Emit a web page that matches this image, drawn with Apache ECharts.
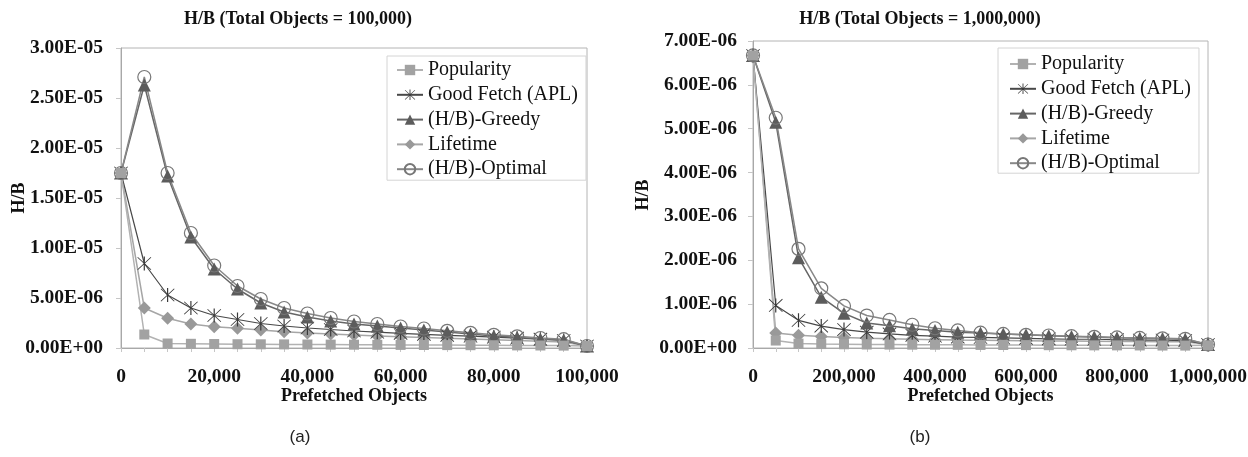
<!DOCTYPE html>
<html>
<head>
<meta charset="utf-8">
<script src="https://cdn.jsdelivr.net/npm/echarts@6/dist/echarts.min.js"></script>
<style>
  html, body { margin: 0; padding: 0; background: #ffffff; }
  #chart { width: 1248px; height: 457px; }
</style>
</head>
<body>
<div id="chart"></div>
<script>
// ---- Panel (a): 100,000 objects in total ----
const prefetchA = [0, 5000, 10000, 15000, 20000, 25000, 30000, 35000, 40000, 45000, 50000,
                   55000, 60000, 65000, 70000, 75000, 80000, 85000, 90000, 95000, 100000];
const popularityA = [1.75e-5, 1.35e-6, 4.5e-7, 4.2e-7, 4.0e-7, 3.8e-7, 3.7e-7, 3.6e-7, 3.5e-7, 3.4e-7, 3.3e-7,
                     3.2e-7, 3.1e-7, 3.0e-7, 2.9e-7, 2.8e-7, 2.7e-7, 2.6e-7, 2.5e-7, 2.4e-7, 2.0e-7];
const goodFetchA = [1.75e-5, 8.45e-6, 5.3e-6, 4.0e-6, 3.25e-6, 2.85e-6, 2.45e-6, 2.2e-6, 2.0e-6, 1.85e-6, 1.7e-6,
                    1.58e-6, 1.47e-6, 1.37e-6, 1.27e-6, 1.18e-6, 1.08e-6, 9.8e-7, 8.8e-7, 7.5e-7, 2.0e-7];
const greedyA = [1.75e-5, 2.63e-5, 1.72e-5, 1.11e-5, 7.9e-6, 5.9e-6, 4.5e-6, 3.6e-6, 3.1e-6, 2.7e-6, 2.4e-6,
                 2.2e-6, 2.0e-6, 1.8e-6, 1.6e-6, 1.4e-6, 1.2e-6, 1.07e-6, 9.0e-7, 8.0e-7, 2.0e-7];
const lifetimeA = [1.75e-5, 4.0e-6, 2.97e-6, 2.4e-6, 2.13e-6, 1.97e-6, 1.8e-6, 1.63e-6, 1.5e-6, 1.4e-6, 1.3e-6,
                   1.2e-6, 1.12e-6, 1.05e-6, 9.7e-7, 9.0e-7, 8.2e-7, 7.5e-7, 6.7e-7, 6.0e-7, 2.0e-7];
const optimalA = [1.75e-5, 2.71e-5, 1.75e-5, 1.15e-5, 8.25e-6, 6.2e-6, 4.9e-6, 4.0e-6, 3.45e-6, 3.0e-6, 2.65e-6,
                  2.4e-6, 2.15e-6, 1.95e-6, 1.72e-6, 1.52e-6, 1.32e-6, 1.17e-6, 1.0e-6, 8.8e-7, 2.0e-7];

// ---- Panel (b): 1,000,000 objects in total ----
const prefetchB = [0, 50000, 100000, 150000, 200000, 250000, 300000, 350000, 400000, 450000, 500000,
                   550000, 600000, 650000, 700000, 750000, 800000, 850000, 900000, 950000, 1000000];
const popularityB = [6.67e-6, 1.7e-7, 1.0e-7, 9.0e-8, 8.5e-8, 8.0e-8, 7.8e-8, 7.6e-8, 7.4e-8, 7.2e-8, 7.0e-8,
                     6.8e-8, 6.6e-8, 6.4e-8, 6.2e-8, 6.0e-8, 6.0e-8, 5.8e-8, 5.6e-8, 5.5e-8, 6.0e-8];
const goodFetchB = [6.67e-6, 9.7e-7, 6.3e-7, 5.0e-7, 4.2e-7, 3.6e-7, 3.2e-7, 2.9e-7, 2.7e-7, 2.5e-7, 2.4e-7,
                    2.3e-7, 2.2e-7, 2.1e-7, 2.0e-7, 2.0e-7, 1.9e-7, 1.8e-7, 1.8e-7, 1.7e-7, 8.0e-8];
const greedyB = [6.67e-6, 5.15e-6, 2.06e-6, 1.16e-6, 7.9e-7, 5.7e-7, 5.1e-7, 4.4e-7, 4.0e-7, 3.6e-7, 3.4e-7,
                 3.2e-7, 3.0e-7, 2.8e-7, 2.65e-7, 2.5e-7, 2.35e-7, 2.25e-7, 2.15e-7, 2.0e-7, 8.0e-8];
const lifetimeB = [6.67e-6, 3.4e-7, 2.9e-7, 2.6e-7, 2.4e-7, 2.2e-7, 2.1e-7, 2.0e-7, 1.9e-7, 1.8e-7, 1.75e-7,
                   1.7e-7, 1.65e-7, 1.6e-7, 1.6e-7, 1.55e-7, 1.5e-7, 1.5e-7, 1.45e-7, 1.4e-7, 8.0e-8];
const optimalB = [6.67e-6, 5.25e-6, 2.26e-6, 1.36e-6, 9.6e-7, 7.4e-7, 6.4e-7, 5.3e-7, 4.5e-7, 4.0e-7, 3.5e-7,
                  3.2e-7, 3.0e-7, 2.85e-7, 2.7e-7, 2.55e-7, 2.4e-7, 2.3e-7, 2.2e-7, 2.1e-7, 8.0e-8];

const seriesNames = ['Popularity', 'Good Fetch (APL)', '(H/B)-Greedy', 'Lifetime', '(H/B)-Optimal'];

// Excel-style "*" marker: a vertical bar crossed by an X
const STAR = 'path://M9.2 0H10.8V20H9.2Z M1.42 0.58L19.42 18.58L18.58 19.42L0.58 1.42Z M19.42 1.42L1.42 19.42L0.58 18.58L18.58 0.58Z';

const looks = {
  'Popularity':       { symbol: 'rect',     size: 10, fill: '#a2a2a2', edge: '#a2a2a2', line: '#b2b2b2', width: 1.5 },
  'Good Fetch (APL)': { symbol: STAR,       size: 14, fill: '#3a3a3a', edge: '#3a3a3a', line: '#484848', width: 1.2 },
  '(H/B)-Greedy':     { symbol: 'triangle', size: 13, fill: '#5c5c5c', edge: '#5c5c5c', line: '#666666', width: 1.5 },
  'Lifetime':         { symbol: 'diamond',  size: 13, fill: '#999999', edge: '#999999', line: '#a6a6a6', width: 1.5 },
  '(H/B)-Optimal':    { symbol: 'circle',   size: 13, fill: 'rgba(255,255,255,0)', edge: '#777777', line: '#888888', width: 1.5 }
};

// drawing order: later entries sit on top
const drawOrder = ['Lifetime', 'Good Fetch (APL)', '(H/B)-Greedy', '(H/B)-Optimal', 'Popularity'];

const panelA = { 'Popularity': popularityA, 'Good Fetch (APL)': goodFetchA, '(H/B)-Greedy': greedyA,
                 'Lifetime': lifetimeA, '(H/B)-Optimal': optimalA };
const panelB = { 'Popularity': popularityB, 'Good Fetch (APL)': goodFetchB, '(H/B)-Greedy': greedyB,
                 'Lifetime': lifetimeB, '(H/B)-Optimal': optimalB };

const SERIF = '"Liberation Serif", "Times New Roman", serif';

function sci(v) {
  if (v === 0) return '0.00E+00';
  const parts = v.toExponential(2).split('e');
  const n = parseInt(parts[1], 10);
  return parts[0] + 'E' + (n < 0 ? '-' : '+') + String(Math.abs(n)).padStart(2, '0');
}
function commas(v) {
  return String(Math.round(v)).replace(/\B(?=(\d{3})+(?!\d))/g, ',');
}

function buildSeries(xs, table, axisIndex) {
  return drawOrder.map(name => {
    const lk = looks[name];
    return {
      name: name,
      type: 'line',
      xAxisIndex: axisIndex,
      yAxisIndex: axisIndex,
      data: xs.map((x, i) => [x, table[name][i]]),
      symbol: lk.symbol,
      symbolSize: lk.size,
      showAllSymbol: true,
      animation: false,
      lineStyle: { color: lk.line, width: lk.width },
      itemStyle: { color: lk.fill, borderColor: lk.edge, borderWidth: name === '(H/B)-Optimal' ? 1.2 : 0 },
      emphasis: { disabled: true }
    };
  });
}

function xAxisFor(gridIndex, max, step, labelStep) {
  return {
    type: 'value', gridIndex: gridIndex, min: 0, max: max, interval: step,
    axisLine: { show: true, onZero: false, lineStyle: { color: '#a8a8a8', width: 1 } },
    axisTick: { show: true, length: 4, lineStyle: { color: '#c6c6c6' } },
    splitLine: { show: false },
    axisLabel: {
      formatter: v => (v % labelStep === 0 ? commas(v) : ''),
      fontFamily: SERIF, fontWeight: 'bold', fontSize: 19.5, color: '#111', margin: 19,
      showMinLabel: true, showMaxLabel: true, hideOverlap: false
    },
    name: 'Prefetched Objects', nameLocation: 'middle', nameGap: 39, nameMoveOverlap: false,
    nameTextStyle: { fontFamily: SERIF, fontWeight: 'bold', fontSize: 18, color: '#111' }
  };
}

function yAxisFor(gridIndex, max, step, margin) {
  return {
    type: 'value', gridIndex: gridIndex, min: 0, max: max, interval: step,
    axisLine: { show: true, lineStyle: { color: '#a8a8a8', width: 1 } },
    axisTick: { show: true, length: 5, lineStyle: { color: '#c6c6c6' } },
    splitLine: { show: false },
    axisLabel: { formatter: sci, fontFamily: SERIF, fontWeight: 'bold', fontSize: 19.5, color: '#111', margin: margin }
  };
}

function legendFor(left, top, pad) {
  return {
    orient: 'vertical', left: left, top: top,
    itemWidth: 26, itemHeight: 13, itemGap: 4.8, padding: pad,
    borderColor: '#d4d4d4', borderWidth: 1, backgroundColor: '#ffffff',
    textStyle: { fontFamily: SERIF, fontSize: 20, color: '#111', lineHeight: 20 },
    selectedMode: false,
    data: seriesNames
  };
}

function label(text, x, y, opts) {
  return Object.assign({
    type: 'text', x: x, y: y,
    style: { text: text, fontFamily: SERIF, fontWeight: 'bold', fontSize: 18, fill: '#111',
             align: 'center', verticalAlign: 'middle' }
  }, opts || {});
}

const chart = echarts.init(document.getElementById('chart'), null, { renderer: 'canvas' });
chart.setOption({
  backgroundColor: '#ffffff',
  animation: false,
  grid: [
    { left: 121, top: 48, width: 466, height: 300, show: true, borderColor: '#b4b4b4', borderWidth: 1,
      backgroundColor: 'transparent', outerBoundsMode: 'none' },
    { left: 753, top: 41, width: 455, height: 307, show: true, borderColor: '#b4b4b4', borderWidth: 1,
      backgroundColor: 'transparent', outerBoundsMode: 'none' }
  ],
  xAxis: [ xAxisFor(0, 100000, 5000, 20000), xAxisFor(1, 1000000, 50000, 200000) ],
  yAxis: [ yAxisFor(0, 3e-5, 5e-6, 18), yAxisFor(1, 7e-6, 1e-6, 16) ],
  legend: [ legendFor(387, 56, [4, 8, 1, 9]), legendFor(998, 48, [6, 8, 0, 11]) ],
  series: buildSeries(prefetchA, panelA, 0).concat(buildSeries(prefetchB, panelB, 1)),
  graphic: [
    label('H/B (Total Objects = 100,000)', 298, 19),
    label('H/B (Total Objects = 1,000,000)', 920, 19),
    label('H/B', 19, 198, { rotation: Math.PI / 2 }),
    label('H/B', 643, 195, { rotation: Math.PI / 2 }),
    { type: 'text', x: 300, y: 437,
      style: { text: '(a)', fontFamily: '"Liberation Sans", Arial, sans-serif', fontSize: 17, fill: '#222',
               align: 'center', verticalAlign: 'middle' } },
    { type: 'text', x: 920, y: 437,
      style: { text: '(b)', fontFamily: '"Liberation Sans", Arial, sans-serif', fontSize: 17, fill: '#222',
               align: 'center', verticalAlign: 'middle' } }
  ]
});
</script>
</body>
</html>
